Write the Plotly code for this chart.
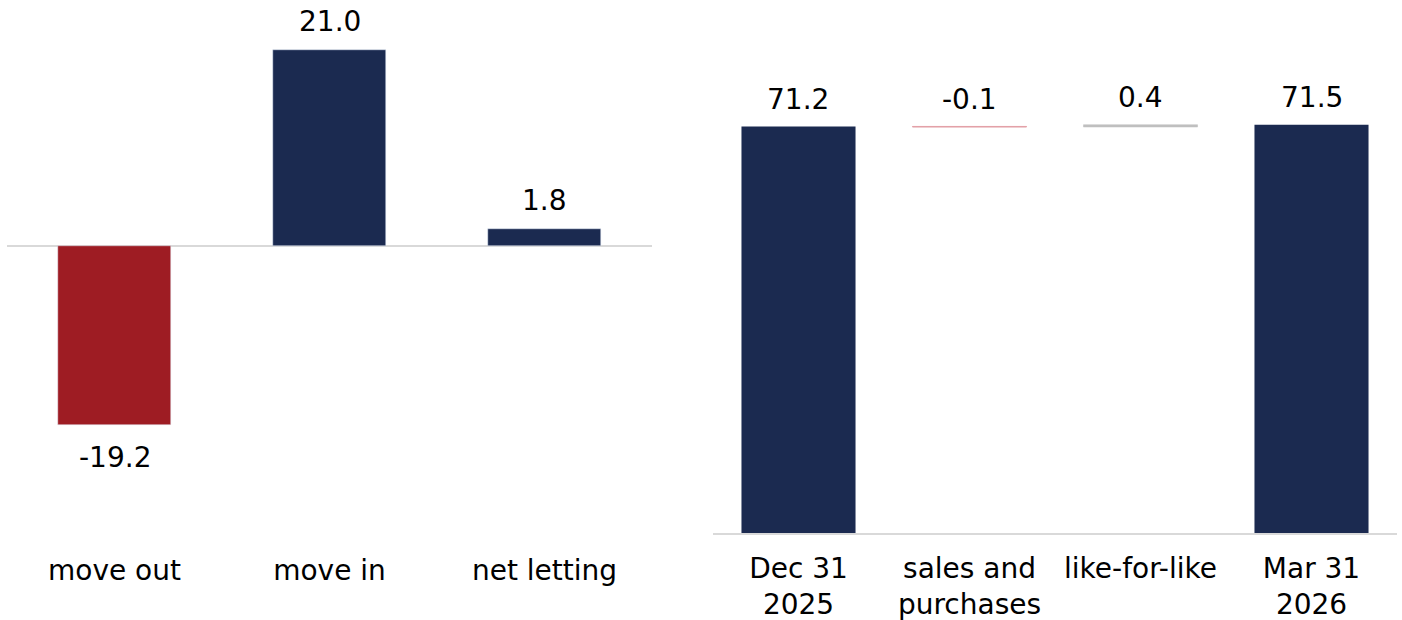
import plotly.graph_objects as go

# Letting activity (left panel)
letting_cats = ["move out", "move in", "net letting"]
letting_vals = [-19.2, 21.0, 1.8]

# Bridge from opening to closing value (right panel)
bridge_cats = ["Dec 31<br>2025", "sales and<br>purchases", "like-for-like", "Mar 31<br>2026"]
bridge_vals = [71.2, -0.1, 0.4, 71.5]
bridge_measure = ["absolute", "relative", "relative", "total"]

NAVY = "#1b2a50"
RED = "#9e1c23"
PALE_RED = "#e3a0a7"
GREY = "#bfbfbf"
AXIS_GREY = "#d9d9d9"
FONT = "DejaVu Sans"
FS = 28

W, H = 1402, 620

fig = go.Figure()

fig.add_trace(go.Bar(
    x=letting_cats, y=letting_vals,
    marker_color=[RED if v < 0 else NAVY for v in letting_vals],
    width=0.53, xaxis="x", yaxis="y", showlegend=False, hoverinfo="skip",
))

fig.add_trace(go.Waterfall(
    x=bridge_cats, y=bridge_vals, measure=bridge_measure,
    width=0.667,
    totals=dict(marker=dict(color=NAVY)),
    increasing=dict(marker=dict(color=GREY, line=dict(color=GREY, width=0.5))),
    decreasing=dict(marker=dict(color=PALE_RED, line=dict(color=PALE_RED, width=1))),
    connector=dict(visible=False),
    xaxis="x2", yaxis="y2", showlegend=False, hoverinfo="skip",
))

annotations = []
for c, v in zip(letting_cats, letting_vals):
    annotations.append(dict(
        x=c, y=v, xref="x", yref="y", text=f"{v:.1f}", showarrow=False,
        yanchor="middle", yshift=29 if v >= 0 else -32,
        font=dict(family=FONT, size=FS, color="#000"),
    ))

level = 0.0
for c, v, m in zip(bridge_cats, bridge_vals, bridge_measure):
    if m == "absolute":
        level = v
        top = v
    elif m == "relative":
        top = max(level, level + v)
        level += v
    else:
        top = level
    annotations.append(dict(
        x=c, y=top, xref="x2", yref="y2", text=f"{v:.1f}", showarrow=False,
        yanchor="middle", yshift=27,
        font=dict(family=FONT, size=FS, color="#000"),
    ))

# pixel scales: left 9.33 px/unit with zero at 246, right 5.71 px/unit with zero at 533
left_bottom_px = 545
left_zero_px = 246
left_scale = 9.33
right_bottom_px = 533
right_scale = 5.71

fig.update_layout(
    width=W, height=H,
    margin=dict(l=0, r=0, t=0, b=0, autoexpand=False),
    paper_bgcolor="white", plot_bgcolor="white",
    font=dict(family=FONT, size=FS, color="#000"),
    bargap=0,
    annotations=annotations,
    xaxis=dict(
        domain=[7 / W, 652 / W], range=[-0.5, 2.5],
        showline=False, showgrid=False, ticks="", tickfont=dict(size=FS),
        ticklabelstandoff=6, fixedrange=True, automargin=False,
    ),
    yaxis=dict(
        domain=[1 - left_bottom_px / H, 1],
        range=[-(left_bottom_px - left_zero_px) / left_scale, left_zero_px / left_scale],
        showgrid=False, showticklabels=False, zeroline=True,
        zerolinecolor=AXIS_GREY, zerolinewidth=2, fixedrange=True, automargin=False,
    ),
    xaxis2=dict(
        domain=[713 / W, 1397 / W], range=[-0.5, 3.5],
        anchor="y2", showline=True, linecolor=AXIS_GREY, linewidth=2,
        showgrid=False, ticks="", tickfont=dict(size=FS),
        ticklabelstandoff=9, fixedrange=True, automargin=False,
    ),
    yaxis2=dict(
        domain=[1 - right_bottom_px / H, 1],
        range=[0, right_bottom_px / right_scale],
        anchor="x2", showgrid=False, showticklabels=False, zeroline=False,
        fixedrange=True, automargin=False,
    ),
)

fig.write_html("out.html")
